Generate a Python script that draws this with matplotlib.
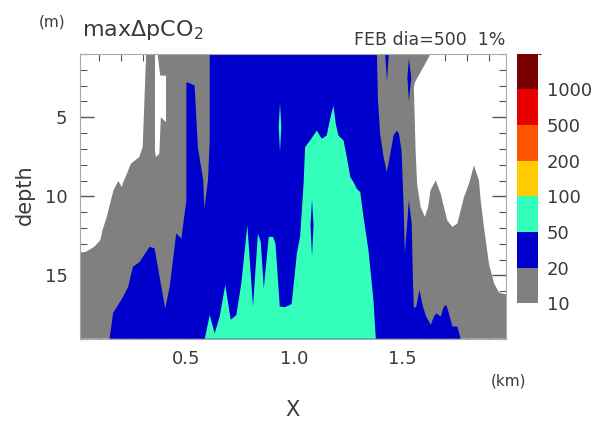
import matplotlib
matplotlib.use('Agg')
import numpy as np
import matplotlib.pyplot as plt
import matplotlib as mpl
from matplotlib.colors import ListedColormap, BoundaryNorm
from matplotlib.ticker import MultipleLocator
from matplotlib.path import Path
from matplotlib.patches import PathPatch

# contour levels of max dpCO2 and their fill colours
levels = [10, 20, 50, 100, 200, 500, 1000, 2000]
level_colors = ['#808080', '#0000CC', '#33FFBB', '#FFCC00', '#FF5500', '#E80000', '#780000']

# domain
grid_x = (0.0, 2.0)        # km, extent of the section
x_range = (0.01, 1.98)     # km, shown
depth_range = (1, 19)      # m

# areas below 10 (left white, small white sliver, right white)
white_left_x = [0.0, 0.316, 0.300, 0.284, 0.245, 0.227, 0.210, 0.204, 0.187, 0.165,
                0.153, 0.134, 0.114, 0.104, 0.076, 0.037, 0.0]
white_left_d = [1, 1, 6.89, 7.52, 7.94, 8.57, 9.10, 9.41, 9.03, 9.62,
                10.25, 11.30, 12.14, 12.77, 13.19, 13.51, 13.57]
white_slit_x = [0.357, 0.369, 0.381, 0.408, 0.408, 0.384, 0.377, 0.361, 0.357]
white_slit_d = [1, 1, 2.37, 2.37, 5.31, 5.0, 7.31, 7.52, 7.1]
white_right_x = [1.631, 1.593, 1.559, 1.554, 1.562, 1.569, 1.585, 1.605, 1.620, 1.631,
                 1.655, 1.678, 1.708, 1.732, 1.755, 1.786, 1.809, 1.832, 1.855, 1.863,
                 1.878, 1.901, 1.925, 1.948, 1.979, 2.0, 2.0]
white_right_d = [1, 1.95, 2.79, 3.11, 7.10, 9.2, 10.67, 11.30, 10.67, 9.62,
                 8.99, 9.83, 11.51, 11.93, 11.72, 10.04, 9.20, 8.04, 8.99, 10.25,
                 11.93, 14.24, 15.5, 16.09, 16.2, 16.2, 1]

# 20-50 area
blue_x = [0.147, 0.163, 0.210, 0.233, 0.255, 0.286, 0.332, 0.355, 0.404, 0.425,
          0.455, 0.479, 0.502, 0.502, 0.525, 0.540, 0.555, 0.580, 0.585, 0.602,
          0.610, 0.610, 1.383, 1.388, 1.398, 1.414, 1.429, 1.445, 1.460, 1.476,
          1.485, 1.497, 1.503, 1.508, 1.512, 1.523, 1.531, 1.544, 1.550, 1.554,
          1.565, 1.580, 1.596, 1.611, 1.632, 1.647, 1.658, 1.678, 1.693, 1.704,
          1.716, 1.732, 1.755, 1.770]
blue_d = [19, 17.39, 16.34, 15.71, 14.45, 14.14, 13.19, 13.29, 17.1, 15.71,
          12.35, 12.66, 10.25, 2.79, 2.89, 3.0, 6.89, 8.99, 10.8, 8.99,
          6.47, 1, 1, 3.95, 6.05, 7.52, 8.47, 7.31, 6.15, 5.84,
          6.05, 7.1, 9.2, 11.3, 13.6, 11.72, 10.25, 11.72, 15.5, 17.07,
          16.97, 15.92, 16.97, 17.6, 18.12, 17.6, 17.39, 17.6, 16.97, 16.87,
          17.39, 18.23, 18.23, 19]
blue_slit1_x = [1.421, 1.438, 1.430]
blue_slit1_d = [1, 1, 2.7]
blue_slit2_x = [1.531, 1.542, 1.531, 1.524]
blue_slit2_d = [1.3, 2.5, 4.0, 2.5]
blue_slit3_x = [1.083, 1.090, 1.083, 1.076]
blue_slit3_d = [10.2, 11.8, 13.8, 11.8]

# 50-100 area
cyan_x = [0.587, 0.610, 0.633, 0.656, 0.682, 0.707, 0.733, 0.756, 0.784, 0.810,
          0.833, 0.846, 0.860, 0.883, 0.903, 0.914, 0.934, 0.957, 0.980, 0.989,
          1.013, 1.028, 1.044, 1.051, 1.074, 1.105, 1.128, 1.151, 1.167, 1.182,
          1.193, 1.205, 1.229, 1.244, 1.260, 1.275, 1.290, 1.306, 1.321, 1.344,
          1.367, 1.378]
cyan_d = [19, 17.51, 18.66, 17.6, 15.6, 17.8, 17.51, 15.5, 11.83, 16.97,
          12.35, 12.88, 15.81, 12.56, 12.56, 12.98, 16.97, 17.01, 16.87, 16.8,
          13.6, 12.56, 9.2, 6.89, 6.47, 5.84, 6.36, 6.15, 5.1, 4.26,
          5.42, 6.15, 6.47, 7.52, 8.78, 9.10, 9.52, 9.73, 11.30, 13.40,
          16.55, 19]
cyan_slit_x = [0.935, 0.941, 0.935, 0.929]
cyan_slit_d = [4.1, 5.6, 7.2, 5.6]

gray, blue, cyan = level_colors[0], level_colors[1], level_colors[2]
txt = '#3a3a3a'


def ring(xs, ds, ccw):
    # polygon vertices with a given winding, so holes cut out of the outer shape
    pts = np.column_stack([xs, ds]).astype(float)
    area = 0.5 * np.sum(pts[:, 0] * np.roll(pts[:, 1], -1) - np.roll(pts[:, 0], -1) * pts[:, 1])
    if (area > 0) != ccw:
        pts = pts[::-1]
    return pts


fig = plt.figure(figsize=(6, 4.25), dpi=100)
ax = fig.add_axes([0.1333, 0.203, 0.71, 0.670])

# 10-20 area: whole section minus the areas below 10
rings = [(ring([grid_x[0], grid_x[1], grid_x[1], grid_x[0]],
               [depth_range[0], depth_range[0], depth_range[1], depth_range[1]], True))]
for xs, ds in [(white_left_x, white_left_d), (white_slit_x, white_slit_d),
               (white_right_x, white_right_d)]:
    rings.append(ring(xs, ds, False))
verts, codes = [], []
for pts in rings:
    verts += list(pts) + [pts[0]]
    codes += [Path.MOVETO] + [Path.LINETO] * (len(pts) - 1) + [Path.CLOSEPOLY]
ax.add_patch(PathPatch(Path(verts, codes), facecolor=gray, lw=0))

for xs, ds in [(blue_x, blue_d), (blue_slit1_x, blue_slit1_d), (blue_slit2_x, blue_slit2_d)]:
    ax.fill(xs, ds, color=blue, lw=0)
ax.fill(cyan_x, cyan_d, color=cyan, lw=0)
ax.fill(cyan_slit_x, cyan_slit_d, color=cyan, lw=0)
ax.fill(blue_slit3_x, blue_slit3_d, color=blue, lw=0)

ax.set_xlim(*x_range)
ax.set_ylim(depth_range[1], depth_range[0])
ax.set_axisbelow(True)
ax.set_xticks([0.5, 1.0, 1.5])
ax.set_xticklabels(['0.5', '1.0', '1.5'])
ax.xaxis.set_minor_locator(MultipleLocator(0.1))
ax.set_yticks([5, 10, 15])
ax.yaxis.set_minor_locator(MultipleLocator(1))
ax.tick_params(which='both', direction='in', top=True, right=True,
               colors='#555555', labelcolor=txt, labelsize=13)
ax.tick_params(which='major', length=10, width=1)
ax.tick_params(which='minor', length=5, width=0.8)
ax.tick_params(axis='x', pad=8)
ax.tick_params(axis='y', pad=9)
for s in ax.spines.values():
    s.set_color('#aaaaaa')
    s.set_linewidth(0.8)

# colour bar
cmap = ListedColormap(level_colors)
norm = BoundaryNorm(levels, cmap.N)
cax = fig.add_axes([0.861, 0.286, 0.036, 0.588])
cb = fig.colorbar(mpl.cm.ScalarMappable(norm=norm, cmap=cmap), cax=cax,
                  ticks=levels[:-1], spacing='uniform')
cb.outline.set_visible(False)
cb.set_ticklabels([str(v) for v in levels[:-1]])
cax.tick_params(length=0, labelsize=13, pad=6, labelcolor=txt)

# texts
fig.text(52 / 600, 1 - 22 / 425, '(m)', ha='center', va='center', fontsize=11, color=txt)
fig.text(82 / 600, 1 - 36 / 425, 'maxΔpCO$_2$', ha='left', va='baseline', fontsize=16, color=txt)
fig.text(505 / 600, 1 - 45 / 425, 'FEB dia=500  1%', ha='right', va='baseline',
         fontsize=12.5, color=txt)
fig.text(25 / 600, 1 - 195 / 425, 'depth', rotation=90, ha='center', va='center',
         fontsize=15, color=txt)
fig.text(293 / 600, 1 - 410 / 425, 'X', ha='center', va='center', fontsize=15, color=txt)
fig.text(508 / 600, 1 - 381 / 425, '(km)', ha='center', va='center', fontsize=11, color=txt)

fig.savefig('out.png', dpi=100)
